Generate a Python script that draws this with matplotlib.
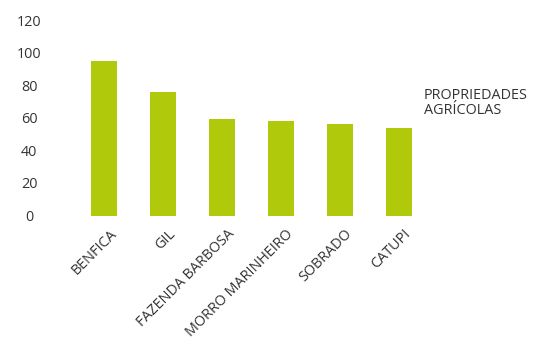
import matplotlib
matplotlib.use("Agg")
import matplotlib.pyplot as plt
from matplotlib.transforms import ScaledTranslation

categories = ["BENFICA", "GIL", "FAZENDA BARBOSA", "MORRO MARINHEIRO", "SOBRADO", "CATUPI"]
values = [95, 76, 59, 58, 56, 54]
yticks = [0, 20, 40, 60, 80, 100, 120]
series_name = "PROPRIEDADES\nAGRÍCOLAS"

plt.rcParams['font.family'] = ['Open Sans', 'DejaVu Sans']

fig = plt.figure(figsize=(5.38, 3.38), dpi=100)
W, H = 538, 338
# axes box in pixels: left 75, right 428, top 20, bottom 215.5
ax = fig.add_axes([75 / W, 1 - 215.5 / H, (428 - 75) / W, (215.5 - 20) / H])

x = list(range(len(categories)))
ax.bar(x, values, width=0.44, color="#b0ca0b")

ax.set_xlim(-0.5, len(categories) - 0.5)
ax.set_ylim(0, 120)
ax.set_yticks(yticks)
ax.set_yticklabels([str(t) for t in yticks], ha="center")
ax.set_xticks(x)
ax.set_xticklabels(categories, rotation=45, ha="right", rotation_mode="anchor")

ax.tick_params(axis="y", length=0, pad=33, labelsize=10.4, labelcolor="#333333")
ax.tick_params(axis="x", length=0, pad=8, labelsize=10.4, labelcolor="#333333")
shift = ScaledTranslation(5 / 100, 0, fig.dpi_scale_trans)
for lbl in ax.get_xticklabels():
    lbl.set_transform(lbl.get_transform() + shift)
for s in ax.spines.values():
    s.set_visible(False)

fig.text(424 / W, 1 - 88 / H, series_name, ha="left", va="top",
         fontsize=10.4, color="#333333", linespacing=1.0)

fig.savefig("out.png", dpi=100)
